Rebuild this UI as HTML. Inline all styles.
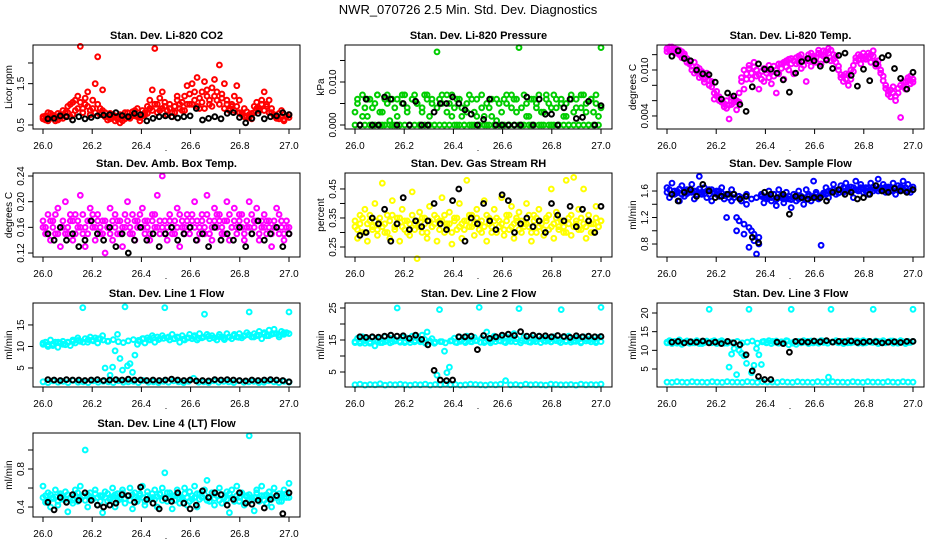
<!DOCTYPE html>
<html><head><meta charset="utf-8"><style>
html,body{margin:0;padding:0;background:#fff;width:936px;height:540px;overflow:hidden}
svg{display:block;font-family:"Liberation Sans",Arial,sans-serif}
</style></head><body>
<svg id="chart" width="936" height="540" viewBox="0 0 936 540" xmlns="http://www.w3.org/2000/svg">
<rect x="0" y="0" width="936" height="540" fill="#fff"/>
<text x="468" y="14" text-anchor="middle" font-size="13">NWR_070726  2.5 Min. Std. Dev. Diagnostics</text>
</svg>
<script>
// ---- shared x-axis data ----
const xTicks = [26.0, 26.2, 26.4, 26.6, 26.8, 27.0];
const xTickLabels = ["26.0", "26.2", "26.4", "26.6", "26.8", "27.0"];

// ---- panel 1: CO2 ----
const co2Color = [0.65,0.72,0.6,0.78,0.68,0.7,0.62,0.75,0.66,0.8,0.95,0.7,1.05,0.85,1.2,2.4,0.9,1.0,1.3,0.75,1.1,1.5,2.15,0.9,1.35,0.8,0.7,0.65,0.75,0.6,0.7,0.55,0.72,0.65,0.8,0.68,0.75,0.85,0.7,0.6,0.72,0.8,0.78,0.9,1.35,2.35,1.0,0.85,1.3,0.95,0.75,0.9,0.7,0.8,1.1,1.0,0.85,1.2,1.45,1.0,1.5,1.1,1.65,0.9,1.3,1.55,1.2,1.0,1.4,1.6,1.1,1.95,1.25,1.5,1.0,0.9,0.95,0.85,1.45,1.1,0.8,0.9,0.7,0.75,0.65,0.8,0.9,0.85,1.0,1.3,0.95,1.1,0.8,0.75,0.7,0.65,0.85,0.6,0.7,0.75];
const co2Color2 = [0.7,0.62,0.8,0.66,0.74,0.6,0.78,0.68,0.85,0.72,0.8,1.0,0.75,1.1,0.9,1.05,0.8,1.15,0.95,0.85,0.9,0.8,1.0,0.75,0.85,0.7,0.62,0.78,0.68,0.72,0.64,0.75,0.6,0.8,0.7,0.66,0.82,0.72,0.9,0.68,0.85,0.75,0.95,1.1,0.85,1.0,0.8,1.15,0.9,1.05,0.85,1.0,0.8,0.95,1.2,0.9,1.05,0.85,1.0,1.25,1.0,1.3,0.95,1.15,1.05,0.9,1.35,1.1,0.95,1.2,1.3,1.0,1.15,0.9,1.1,0.85,1.0,1.2,0.95,0.8,0.75,0.7,0.82,0.68,0.78,0.95,1.05,0.9,1.1,0.85,1.0,0.8,0.9,0.72,0.66,0.78,0.7,0.64,0.72,0.68];
const co2Black = [0.65,0.66,0.72,0.7,0.62,0.7,0.65,0.68,0.72,0.74,0.75,0.8,0.73,0.7,0.78,0.75,0.6,0.66,0.7,0.72,0.7,0.67,0.7,0.72,0.9,0.62,0.66,0.7,0.65,0.78,0.8,0.68,0.55,0.66,0.78,0.65,0.7,0.72,0.8,0.75];
const co2Ticks = [0.5, 1.0, 1.5, 2.0];
const co2TickLabels = ["0.5", "", "1.5", ""];

// ---- panel 2: pressure ----
const presColor = [0.003,0.006,0,0.007,0.004,0.002,0.006,0,0.005,0.007,0.003,0,0.006,0.007,0.001,0,0.004,0.006,0,0.005,0.007,0.003,0,0.006,0.007,0.005,0,0.004,0.007,0.006,0.002,0.005,0,0.017,0.006,0.007,0,0.003,0.005,0.007,0.004,0,0.006,0.002,0,0.005,0.007,0,0.003,0.006,0,0.007,0.002,0,0.004,0.006,0,0.001,0.005,0,0.006,0.007,0,0.004,0.006,0.003,0.018,0,0.007,0.005,0.002,0,0.006,0.004,0.007,0,0.003,0.006,0.005,0,0.007,0.004,0,0.006,0.002,0.005,0,0.007,0.003,0.006,0,0.004,0.007,0.005,0,0.006,0.003,0.007,0.002,0.018];
const presColor2 = [0,0.005,0,0.002,0,0.006,0,0.004,0,0.007,0,0.003,0,0.005,0,0.006,0,0.002,0,0.007,0,0.004,0,0.006,0,0.005,0,0.003,0,0.007,0,0.006,0,0.004,0,0.005,0,0.007,0,0.002,0,0.006,0,0.004,0,0.003,0,0.006,0,0.002,0,0.004,0,0.005,0,0.002,0,0.006,0,0.003,0,0.005,0,0.007,0,0.006,0,0.004,0,0.002,0,0.006,0,0.005,0,0.003,0,0.007,0,0.004,0,0.006,0,0.005,0,0.002,0,0.006,0,0.004,0,0.007,0,0.003,0,0.006,0,0.005,0,0.004];
const presBlack = [0,0.006,0,0,0.0065,0.006,0,0.005,0,0.0055,0,0,0.003,0.005,0.005,0.0065,0.005,0.0035,0.0025,0,0.0013,0.006,0,0,0,0,0,0.0065,0,0.006,0.0025,0.0025,0,0.004,0.006,0.0015,0.0018,0.0055,0,0.0045];
const presTicks = [0, 0.005, 0.010, 0.015];
const presTickLabels = ["0.000", "", "0.010", ""];

// ---- panel 3: Li-820 temp ----
const tempColor = [.0128,.0125,.0130,.0122,.0127,.0120,.0124,.0118,.0115,.0112,.0105,.0110,.0098,.0102,.0092,.0088,.0096,.0080,.0085,.0062,.0072,.0065,.0058,.0052,.0060,.0036,.0055,.0062,.0048,.0058,.0085,.0075,.0095,.0102,.0088,.0110,.0092,.0075,.0098,.0085,.0100,.0090,.0082,.0105,.0070,.0095,.0108,.0088,.0112,.0100,.0115,.0095,.0108,.0118,.0102,.0112,.0085,.0120,.0105,.0115,.0110,.0122,.0108,.0125,.0115,.0128,.0112,.0120,.0118,.0105,.0090,.0085,.0095,.0080,.0088,.0098,.0112,.0120,.0108,.0115,.0118,.0122,.0110,.0125,.0105,.0112,.0100,.0092,.0080,.0072,.0065,.0078,.0060,.0070,.0038,.0085,.0075,.0090,.0082,.0088];
const tempColor2 = [.0124,.0130,.0126,.0128,.0122,.0126,.0116,.0121,.0110,.0108,.0100,.0096,.0104,.0090,.0098,.0084,.0092,.0086,.0078,.0070,.0066,.0060,.0062,.0056,.0050,.0054,.0064,.0058,.0060,.0070,.0090,.0100,.0088,.0106,.0096,.0104,.0100,.0094,.0088,.0102,.0096,.0106,.0098,.0092,.0100,.0108,.0102,.0110,.0104,.0114,.0108,.0112,.0116,.0110,.0120,.0106,.0114,.0112,.0122,.0118,.0116,.0126,.0120,.0118,.0124,.0122,.0126,.0114,.0110,.0100,.0094,.0092,.0088,.0094,.0100,.0106,.0116,.0114,.0118,.0122,.0114,.0116,.0120,.0118,.0110,.0106,.0096,.0086,.0076,.0068,.0074,.0070,.0066,.0076,.0080,.0078,.0084,.0086,.0092,.0084];
const tempBlack = [.0118,.0125,.0115,.0112,.0100,.0095,.0094,.0084,.0062,.0070,.0066,.0055,.0046,.0078,.0108,.0101,.0101,.0096,.0087,.0071,.0096,.0111,.0115,.0112,.0105,.0113,.0102,.0119,.0122,.0093,.0079,.0101,.0086,.0108,.0116,.0119,.0102,.0089,.0075,.0097];
const tempTicks = [0.004, 0.006, 0.008, 0.010, 0.012];
const tempTickLabels = ["0.004", "", "", "0.010", ""];

// ---- panel 4: amb box temp ----
const ambColor = [.16,.15,.18,.14,.17,.15,.19,.13,.16,.20,.15,.17,.14,.18,.16,.21,.15,.13,.17,.19,.16,.14,.18,.15,.17,.12,.16,.19,.14,.18,.15,.17,.13,.16,.20,.15,.18,.14,.17,.16,.19,.15,.17,.14,.18,.16,.21,.15,.24,.17,.14,.18,.16,.15,.19,.13,.17,.16,.18,.15,.17,.20,.14,.16,.18,.15,.21,.17,.14,.19,.16,.18,.15,.17,.20,.14,.16,.19,.15,.17,.18,.14,.16,.20,.15,.17,.19,.14,.16,.18,.15,.17,.13,.16,.19,.15,.17,.14,.16,.15];
const ambColor2 = [.17,.16,.15,.17,.16,.18,.15,.16,.17,.15,.16,.18,.17,.15,.17,.16,.18,.16,.15,.17,.18,.16,.17,.16,.15,.17,.16,.15,.17,.16,.17,.15,.16,.18,.17,.16,.15,.17,.16,.18,.16,.17,.16,.15,.17,.18,.16,.17,.16,.15,.16,.17,.15,.17,.16,.18,.16,.15,.17,.16,.18,.16,.17,.15,.17,.16,.18,.15,.16,.17,.18,.17,.16,.15,.17,.18,.16,.17,.16,.18,.16,.15,.17,.16,.18,.16,.17,.15,.17,.16,.17,.16,.15,.17,.16,.18,.16,.15,.17,.16];
const ambBlack = [.15,.14,.16,.14,.15,.13,.14,.17,.15,.14,.16,.13,.15,.12,.14,.16,.14,.15,.13,.15,.16,.14,.15,.16,.14,.15,.13,.16,.14,.15,.14,.16,.13,.15,.17,.14,.15,.16,.13,.15];
const ambTicks = [0.12, 0.16, 0.20, 0.24];
const ambTickLabels = ["0.12", "0.16", "0.20", "0.24"];

// ---- panel 5: gas stream RH ----
const rhColor = [.32,.28,.36,.30,.38,.27,.34,.31,.40,.29,.33,.47,.30,.36,.28,.41,.32,.35,.27,.38,.31,.34,.29,.44,.33,.21,.37,.30,.35,.28,.39,.32,.36,.27,.34,.42,.30,.33,.37,.26,.35,.31,.40,.28,.34,.48,.32,.36,.29,.38,.33,.30,.41,.27,.35,.32,.38,.30,.34,.42,.29,.36,.31,.39,.28,.34,.37,.30,.33,.40,.32,.27,.36,.30,.38,.33,.29,.35,.31,.45,.28,.37,.32,.34,.30,.48,.35,.29,.49,.33,.38,.31,.45,.28,.36,.33,.30,.39,.32,.34];
const rhColor2 = [.34,.31,.33,.35,.30,.33,.36,.32,.34,.31,.35,.32,.33,.30,.34,.36,.31,.33,.35,.32,.34,.30,.33,.36,.31,.34,.32,.35,.33,.30,.34,.32,.33,.35,.31,.34,.36,.32,.33,.30,.34,.35,.32,.33,.31,.34,.36,.32,.33,.35,.31,.34,.32,.36,.33,.30,.34,.35,.32,.33,.31,.34,.36,.32,.33,.35,.31,.34,.32,.33,.36,.30,.34,.35,.32,.33,.31,.34,.36,.32,.33,.35,.31,.34,.32,.30,.33,.36,.32,.34,.31,.35,.33,.32,.34,.30,.33,.35,.32,.34];
const rhBlack = [.29,.30,.35,.33,.38,.27,.33,.42,.31,.34,.32,.34,.40,.33,.31,.41,.45,.27,.35,.33,.40,.34,.31,.43,.41,.30,.33,.35,.32,.34,.30,.40,.36,.34,.39,.32,.38,.34,.30,.39];
const rhTicks = [0.25, 0.30, 0.35, 0.40, 0.45];
const rhTickLabels = ["0.25", "", "0.35", "", "0.45"];

// ---- panel 6: sample flow ----
const sfColor = [1.65,1.5,1.72,1.55,1.6,1.45,1.68,1.52,1.62,1.58,1.7,1.48,1.6,1.82,1.55,1.65,1.5,1.62,1.45,1.58,1.6,1.52,1.65,1.48,1.2,1.55,1.62,1.5,1.0,1.15,1.45,0.95,1.4,0.75,1.0,0.85,0.65,0.9,1.55,1.42,1.5,1.6,1.45,1.55,1.38,1.62,1.5,1.42,1.58,1.48,1.35,1.55,1.45,1.6,1.5,1.4,1.62,1.52,1.45,1.75,1.58,1.48,0.78,1.55,1.65,1.5,1.6,1.7,1.55,1.62,1.68,1.58,1.72,1.6,1.66,1.5,1.75,1.62,1.7,1.58,1.65,1.55,1.72,1.6,1.68,1.78,1.62,1.7,1.58,1.66,1.6,1.72,1.55,1.68,1.62,1.75,1.6,1.7,1.58,1.66];
const sfColor2 = [1.58,1.62,1.55,1.6,1.57,1.63,1.55,1.6,1.56,1.62,1.58,1.6,1.55,1.63,1.58,1.56,1.6,1.55,1.62,1.57,1.55,1.6,1.57,1.53,1.55,1.5,1.45,1.55,1.2,1.52,1.5,1.1,1.55,1.05,1.48,0.95,1.5,0.8,1.52,1.5,1.48,1.52,1.5,1.55,1.47,1.5,1.53,1.48,1.5,1.52,1.47,1.5,1.53,1.48,1.52,1.5,1.47,1.55,1.5,1.52,1.55,1.5,1.53,1.57,1.55,1.6,1.58,1.62,1.6,1.57,1.62,1.65,1.6,1.63,1.6,1.65,1.62,1.6,1.65,1.63,1.6,1.65,1.62,1.66,1.63,1.6,1.65,1.62,1.66,1.63,1.65,1.6,1.64,1.62,1.66,1.63,1.65,1.6,1.64,1.62];
const sfBlack = [1.55,1.45,1.58,1.62,1.52,1.7,1.6,1.5,1.52,1.55,1.55,1.48,1.52,0.9,0.82,1.58,1.55,1.5,1.55,1.25,1.52,1.5,1.48,1.5,1.5,1.45,1.58,1.62,1.55,1.58,1.48,1.5,1.55,1.68,1.6,1.58,1.64,1.6,1.58,1.62];
const sfTicks = [0.8, 1.0, 1.2, 1.4, 1.6];
const sfTickLabels = ["0.8", "", "1.2", "", "1.6"];

// ---- panel 7: line 1 flow ----
const l1Upper = [10.5,11,10,11.5,10.2,11,9.8,10.8,11.2,10.4,11,10.2,11.5,10.8,12,11.2,19,11.8,11,12.2,11.5,12,10.8,11.8,12.5,5,11.2,3.3,5.2,9,12.8,7.2,4.5,19.2,5.5,6,4,8,10.5,11.2,11.8,10.8,12,11.5,12.5,11,12.2,11.8,12.5,19,12,11.5,12.8,11.8,12.2,11,12.5,11.5,12,12.8,11.8,12.5,11.5,13,12,17.5,12.8,11.8,12.5,12,11.5,12.8,12.2,11.6,13,12.2,11.8,12.8,12.2,13,12,12.5,13.2,18,12.2,13,12.5,13.5,11.8,13.2,12.5,13.8,12.8,14,13,12.2,13.5,12.8,13.2,18];
const l1Upper2 = [10.8,10.4,10.6,11,10.5,10.9,11.2,11.4,11,11.6,11.3,11.8,11.5,11.2,11.6,11.1,10.9,11.3,11.6,11.4,11.8,11.5,12,11.6,11.9,12.2,11.8,12.1,11.7,12,12.3,11.9,12.2,12.4,12,12.3,11.9,12.2,12.5,12.1,12.4,12.7,12.2,12.6,12.9,12.5,13,12.7,13.2,13];
const l1Lower = [1.8,1.6,2,1.7,1.9,1.6,2.1,1.7,1.8,1.6,2,1.7,1.9,1.8,1.6,2,1.7,1.8,1.9,1.6,2.1,1.7,1.8,1.6,1.9,1.7,2,1.8,1.6,1.9,2.6,1.7,1.8,1.6,2,1.7,1.9,1.8,1.6,2,1.7,1.8,1.9,1.6,1.7,2,1.8,1.6,1.9,1.7];
const l1Black = [2.3,2.2,2.1,2.3,2.2,2.2,2.1,2.2,2.3,2.1,2.2,2.3,2.2,2.4,2.2,2.2,2.1,2.2,2.1,2.2,2.4,2.2,2.1,2.2,2.0,2.1,2.0,2.3,2.2,2.3,2.2,2.1,2.0,2.2,2.1,2.2,2.3,2.2,2.1,1.8];
const l1Ticks = [5, 10, 15];
const l1TickLabels = ["5", "10", "15"];

// ---- panel 8: line 2 flow ----
const l2Upper = [14.5,15.5,14,16,14.8,15.2,14,15.8,13.2,14.6,15.4,14.2,16,14.8,15.6,14.4,15.2,25,14.6,15.8,14.2,15.6,15,16.2,14.4,15.8,14.8,16.5,15.2,17.5,14.6,15.4,14,4,24.5,14.5,11.5,4.8,6.5,14.8,15.6,14.2,16,15,14.6,16.2,15.2,14.4,15.8,14.8,25.2,15.6,14.2,17.5,15,14.6,16.2,15.4,14.8,15.8,14.4,16,15.2,14.6,17,15.4,24.8,14.8,16,15.2,14.4,15.8,15,14.6,16.2,15.4,14.8,15.6,15,14.4,16,15.2,14.6,24.5,15.8,14.8,16.2,15,14.6,15.6,15.2,14.4,16,15.4,14.8,15.6,15,14.6,15.8,25.2];
const l2Upper2 = [14.2,14.6,14,14.4,14.8,14.2,14.5,14.1,14.7,14.3,14.6,14.2,14.8,14.4,14,14.6,14.3,14.5,14.1,14.7,14.3,14.6,14.2,14.5,14.8,14.3,14.6,14.1,14.5,14.7,14.2,14.6,14.4,14.1,14.7,14.3,14.5,14.2,14.6,14.4,14.8,14.2,14.5,14.3,14.6,14.1,14.7,14.4,14.2,14.5];
const l2Lower = [1,1.2,0.9,1.1,1,1.3,0.9,1.1,1,1.2,1,0.9,1.1,1,1.2,0.9,1.1,1,1.2,1,1.1,0.9,1,1.2,1.1,1,0.9,1.1,1,1.2,2.3,1,1.1,0.9,1.2,1,1.1,1,0.9,1.2,1.1,1,1,1.1,0.9,1.2,1,1.1,1,1.2];
const l2Black = [16,15.8,16,15.9,16.2,16.5,16.2,16.3,15.5,16.5,15.2,13.5,5.5,2.5,2.3,2.5,16,16,16.2,12,16.4,15.5,16,16.5,16.8,16.4,17.6,16.2,16.5,16.2,16.3,16,16.4,16.1,15.8,16.3,16,16.2,16,16.1];
const l2Ticks = [5, 10, 15, 20, 25];
const l2TickLabels = ["5", "", "15", "", "25"];

// ---- panel 9: line 3 flow ----
const l3Upper = [12.2,12.6,11.8,12.4,12,12.8,11.6,12.2,12.5,11.9,12.3,12,12.6,11.8,12.4,12.1,12.5,21,12,12.6,11.8,12.3,12.6,11.9,12.2,5.5,9,10.5,3.5,10,9.2,8.5,6.5,21,4,6,10.5,8.8,6.2,12.4,12,12.6,11.8,12.2,12.5,11.9,12.3,12,12.6,11.5,21,12.2,11.6,12.4,12,12.6,12.2,11.8,12.5,12,12.3,11.9,12.6,12.1,12.4,2.8,21,12.2,12.6,12,12.4,11.8,12.3,12.6,12,12.2,12.5,11.9,12.3,12.6,12,12.4,12.2,21,12.5,11.8,12.3,12.6,12,12.2,12.5,11.9,12.3,12,12.6,12.2,11.8,12.4,12.1,21];
const l3Upper2 = [12,12.3,11.9,12.2,12.5,12,12.3,11.8,12.2,12.4,12,12.3,11.9,12.1,12.4,12,12.2,12.5,11.9,12.3,12.1,12.4,12,12.2,12.5,11.9,12.3,12.1,12.4,12,12.2,12.5,11.9,12.3,12.1,12.4,12,12.2,12.5,11.9,12.3,12.1,12.4,12,12.2,12.5,11.9,12.3,12.1,12.4];
const l3Lower = [1.5,1.4,1.6,1.5,1.4,1.6,1.5,1.5,1.4,1.6,1.5,1.4,1.6,1.5,1.5,1.4,1.6,1.5,1.4,1.6,1.5,1.5,1.4,1.6,1.5,1.4,1.6,1.5,1.5,1.4,1.6,1.5,1.4,1.6,1.5,1.5,1.4,1.6,1.5,1.4,1.6,1.5,1.5,1.4,1.6,1.5,1.4,1.6,1.5,1.5];
const l3Black = [12.2,12.4,12,12.3,12.2,12.5,12,12.2,11.8,12.4,12,11.5,8.8,4.5,3,2.2,2.2,12.2,11.8,9.5,12.4,12.3,12.2,12.5,12.3,12.6,12.2,12.4,12.3,12.5,12.1,12.2,12.4,12.3,12,12.2,12.3,12.1,12.4,12.4];
const l3Ticks = [5, 10, 15, 20];
const l3TickLabels = ["5", "10", "15", "20"];

// ---- panel 10: line 4 flow ----
const l4Color = [0.62,0.45,0.55,0.4,0.5,0.58,0.42,0.52,0.48,0.56,0.35,0.5,0.44,0.58,0.46,0.62,0.52,1.0,0.4,0.55,0.48,0.58,0.42,0.52,0.34,0.56,0.46,0.5,0.6,0.4,0.54,0.48,0.58,0.44,0.52,0.6,0.38,0.55,0.46,0.52,0.62,0.42,0.56,0.48,0.5,0.58,0.4,0.54,0.6,0.76,0.46,0.55,0.38,0.52,0.58,0.44,0.5,0.6,0.42,0.56,0.48,0.62,0.4,0.54,0.5,0.58,0.68,0.46,0.55,0.42,0.52,0.6,0.44,0.5,0.56,0.34,0.58,0.48,0.62,0.46,0.55,0.42,0.52,1.15,0.5,0.36,0.58,0.46,0.62,0.52,0.44,0.56,0.4,0.6,0.5,0.54,0.46,0.58,0.5,0.65];
const l4Color2 = [0.5,0.52,0.47,0.53,0.49,0.51,0.46,0.54,0.5,0.48,0.53,0.5,0.47,0.52,0.55,0.49,0.51,0.47,0.53,0.5,0.48,0.54,0.5,0.46,0.52,0.5,0.54,0.48,0.51,0.53,0.47,0.5,0.55,0.49,0.52,0.47,0.53,0.5,0.48,0.54,0.5,0.46,0.52,0.5,0.54,0.48,0.51,0.53,0.47,0.5,0.55,0.49,0.52,0.47,0.53,0.5,0.48,0.54,0.5,0.46,0.52,0.5,0.54,0.48,0.51,0.53,0.47,0.5,0.55,0.49,0.52,0.47,0.53,0.5,0.48,0.54,0.5,0.46,0.52,0.5,0.54,0.48,0.51,0.53,0.47,0.5,0.55,0.49,0.52,0.47,0.53,0.5,0.48,0.54,0.5,0.46,0.52,0.5,0.54,0.5];
const l4Black = [0.45,0.37,0.5,0.45,0.53,0.47,0.55,0.47,0.42,0.4,0.42,0.44,0.53,0.52,0.45,0.61,0.48,0.44,0.38,0.49,0.46,0.55,0.44,0.38,0.42,0.57,0.5,0.55,0.53,0.42,0.48,0.55,0.44,0.43,0.47,0.39,0.48,0.52,0.33,0.55];
const l4Ticks = [0.4, 0.6, 0.8, 1.0];
const l4TickLabels = ["0.4", "", "0.8", ""];

const NS = "http://www.w3.org/2000/svg";
const svg = document.getElementById("chart");
function mk(tag, attrs, parent) {
  const e = document.createElementNS(NS, tag);
  for (const k in attrs) e.setAttribute(k, attrs[k]);
  (parent || svg).appendChild(e);
  return e;
}
const ROWS = [[45,129],[173,257],[303,387],[433,517]];

function panel(key, col, row, title, ylab, yMin, yMax, ticks, tickLabels, series) {
  const L = 33 + 312 * col, W = 267, T = ROWS[row][0], B = ROWS[row][1];
  const g = mk("g", {});
  
  
  const xs = v => L + 10 + (v - 26) * 246;
  const ys = v => B - (v - yMin) / (yMax - yMin) * (B - T);
  const t = mk("text", {x: L + W / 2, y: T - 6, "text-anchor": "middle", "font-size": 11, "font-weight": "bold"}, g);
  t.textContent = title;
  
  
  series.forEach(s => {
    const sg = mk("g", {fill: "none", stroke: s.color, "stroke-width": 2}, g);
    
    
    const n = s.vals.length;
    s.vals.forEach((v, i) => {
      const xv = s.x0 + (s.x1 - s.x0) * (n > 1 ? i / (n - 1) : 0);
      const c = mk("circle", {cx: xs(xv).toFixed(1), cy: ys(v).toFixed(1), r: 2.4}, sg);
      
      
    });
  });
  const box = mk("rect", {x: L, y: T, width: W, height: B - T, fill: "none", stroke: "#000", "stroke-width": 1}, g);
  
  
  const xa = mk("g", {}, g);
  
  
  mk("line", {x1: xs(xTicks[0]), x2: xs(xTicks[xTicks.length - 1]), y1: B, y2: B, stroke: "#000"}, xa);
  xTicks.forEach((v, i) => {
    mk("line", {x1: xs(v), x2: xs(v), y1: B, y2: B + 5, stroke: "#000"}, xa);
    const tl = mk("text", {x: xs(v), y: B + 20, "text-anchor": "middle", "font-size": 10}, xa);
    tl.textContent = xTickLabels[i];
    
    
  });
  const dot = mk("text", {x: L + 133, y: B + 22, "text-anchor": "middle", "font-size": 9}, xa);
  dot.textContent = ".";
  const ya = mk("g", {}, g);
  
  
  mk("line", {x1: L, x2: L, y1: ys(ticks[0]), y2: ys(ticks[ticks.length - 1]), stroke: "#000"}, ya);
  ticks.forEach((v, i) => {
    mk("line", {x1: L - 5, x2: L, y1: ys(v), y2: ys(v), stroke: "#000"}, ya);
    if (tickLabels[i]) {
      const yy = ys(v);
      const tl = mk("text", {x: L - 9, y: yy, "text-anchor": "middle", "font-size": 10, transform: `rotate(-90 ${L - 9} ${yy})`}, ya);
      tl.textContent = tickLabels[i];
      
      
    }
  });
  const cy = (T + B) / 2;
  const yl = mk("text", {x: L - 21, y: cy, "text-anchor": "middle", "font-size": 10, transform: `rotate(-90 ${L - 21} ${cy})`}, g);
  yl.textContent = ylab;
  
  
}
const C = (vals, color, name) => ({vals, color, name, x0: 26.0, x1: 27.0});
const K = (vals) => ({vals, color: "#000", name: "black", x0: 26.02, x1: 27.0});

panel("co2", 0, 0, "Stan. Dev. Li-820 CO2", "Licor ppm", 0.403, 2.435, co2Ticks, co2TickLabels, [C(co2Color, "#ff0000", "red"), C(co2Color2, "#ff0000", "red-dense"), K(co2Black)]);
panel("pressure", 1, 0, "Stan. Dev. Li-820 Pressure", "kPa", -0.00093, 0.0186, presTicks, presTickLabels, [C(presColor, "#00cd00", "green"), C(presColor2, "#00cd00", "green-dense"), K(presBlack)]);
panel("li820-temp", 2, 0, "Stan. Dev. Li-820 Temp.", "degrees C", 0.0023, 0.01326, tempTicks, tempTickLabels, [C(tempColor, "#ff00ff", "magenta"), C(tempColor2, "#ff00ff", "magenta-dense"), K(tempBlack)]);
panel("amb-box-temp", 0, 1, "Stan. Dev. Amb. Box Temp.", "degrees C", 0.1138, 0.2447, ambTicks, ambTickLabels, [C(ambColor, "#ff00ff", "magenta"), C(ambColor2, "#ff00ff", "magenta-dense"), K(ambBlack)]);
panel("gas-rh", 1, 1, "Stan. Dev. Gas Stream RH", "percent", 0.2155, 0.505, rhTicks, rhTickLabels, [C(rhColor, "#ffff00", "yellow"), C(rhColor2, "#ffff00", "yellow-dense"), K(rhBlack)]);
panel("sample-flow", 2, 1, "Stan. Dev. Sample Flow", "ml/min", 0.604, 1.872, sfTicks, sfTickLabels, [C(sfColor, "#0000ff", "blue"), C(sfColor2, "#0000ff", "blue-dense"), K(sfBlack)]);
panel("line1-flow", 0, 2, "Stan. Dev. Line 1 Flow", "ml/min", 0.58, 20.1, l1Ticks, l1TickLabels, [C(l1Upper, "#00ffff", "cyan-upper"), C(l1Upper2, "#00ffff", "cyan-upper-dense"), C(l1Lower, "#00ffff", "cyan-lower"), K(l1Black)]);
panel("line2-flow", 1, 2, "Stan. Dev. Line 2 Flow", "ml/min", 0.31, 26.56, l2Ticks, l2TickLabels, [C(l2Upper, "#00ffff", "cyan-upper"), C(l2Upper2, "#00ffff", "cyan-upper-dense"), C(l2Lower, "#00ffff", "cyan-lower"), K(l2Black)]);
panel("line3-flow", 2, 2, "Stan. Dev. Line 3 Flow", "ml/min", 0.18, 22.68, l3Ticks, l3TickLabels, [C(l3Upper, "#00ffff", "cyan-upper"), C(l3Upper2, "#00ffff", "cyan-upper-dense"), C(l3Lower, "#00ffff", "cyan-lower"), K(l3Black)]);
panel("line4-flow", 0, 3, "Stan. Dev. Line 4 (LT) Flow", "ml/min", 0.295, 1.179, l4Ticks, l4TickLabels, [C(l4Color, "#00ffff", "cyan"), C(l4Color2, "#00ffff", "cyan-dense"), K(l4Black)]);
</script>
</body></html>
